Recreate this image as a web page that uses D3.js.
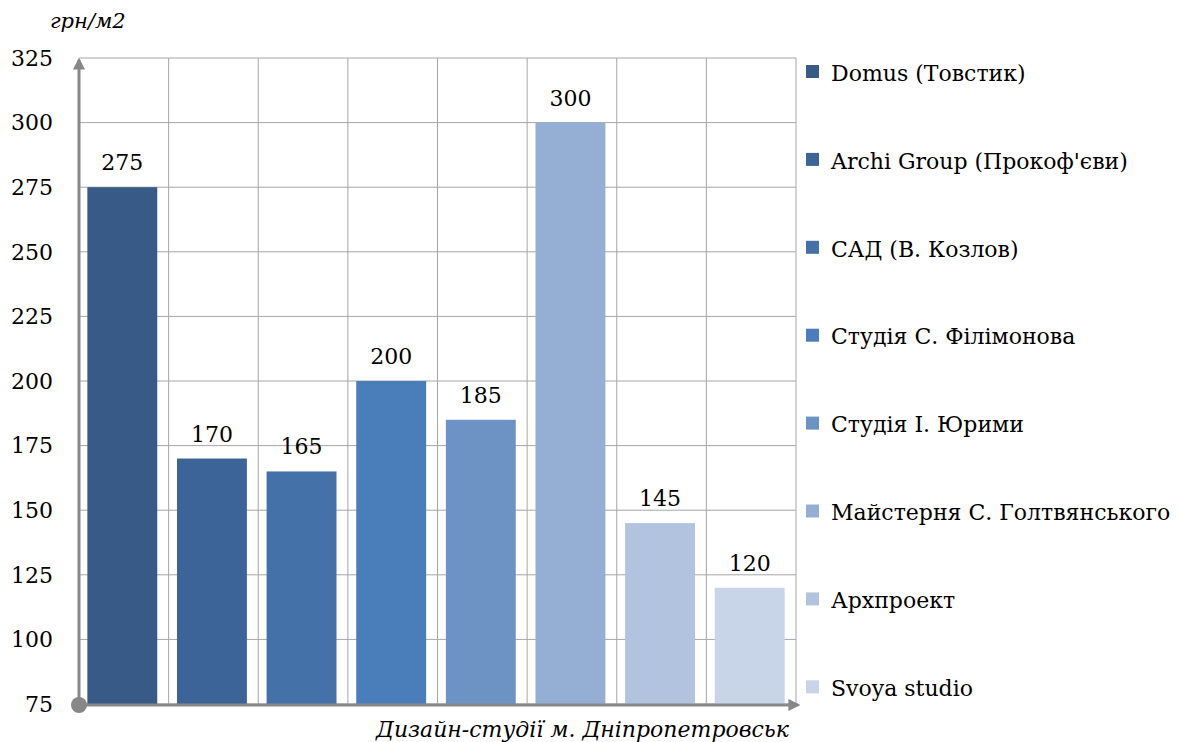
<!DOCTYPE html>
<html>
<head>
<meta charset="utf-8">
<script src="https://cdn.jsdelivr.net/npm/d3@7"></script>
<style>
  body { margin: 0; background: #fff; }
</style>
</head>
<body>
<div id="chart"></div>
<script>
const studios = ["Domus (Товстик)", "Archi Group (Прокоф'єви)", "САД (В. Козлов)", "Студія С. Філімонова",
  "Студія І. Юрими", "Майстерня С. Голтвянського", "Архпроект", "Svoya studio"];
const prices = [275, 170, 165, 200, 185, 300, 145, 120];
const colors = ["#375a86", "#3d6498", "#4472a8", "#4a7ebb", "#6d93c5", "#95aed4", "#b1c3de", "#c8d4e8"];
const yTicks = [75, 100, 125, 150, 175, 200, 225, 250, 275, 300, 325];

const W = 1179, H = 742;
const MARGIN = {top: 58, right: 383, bottom: 38, left: 79};
const plotW = W - MARGIN.left - MARGIN.right,
      plotH = H - MARGIN.top - MARGIN.bottom;
const FONT = "DejaVu Serif, Liberation Serif, serif";

const svg = d3.select("#chart").append("svg")
  .attr("width", W).attr("height", H)
  .style("font-family", FONT);

const g = svg.append("g").attr("transform", `translate(${MARGIN.left},${MARGIN.top})`);

var x = d3.scaleBand()
  .domain(studios)
  .range([0, plotW])
  .paddingInner(0.22)
  .paddingOuter(0.11);

var y = d3.scaleLinear()
  .domain([75, 325])
  .range([plotH, 0]);

// horizontal grid
g.selectAll(".hgrid").data(yTicks).enter().append("line")
  .attr("x1", 0).attr("x2", plotW)
  .attr("y1", d => y(d)).attr("y2", d => y(d))
  .attr("stroke", "#a6a6a6").attr("stroke-width", 1);

// vertical grid on band boundaries
const step = x.step(), x0 = x(studios[0]) - x.paddingOuter() * step;
g.selectAll(".vgrid").data(d3.range(1, studios.length + 1)).enter().append("line")
  .attr("x1", i => x0 + i * step).attr("x2", i => x0 + i * step)
  .attr("y1", 0).attr("y2", plotH)
  .attr("stroke", "#a6a6a6").attr("stroke-width", 1);

// y tick labels
g.selectAll(".ylab").data(yTicks).enter().append("text")
  .attr("x", -26).attr("y", d => y(d)).attr("dy", "0.35em")
  .attr("text-anchor", "end").attr("font-size", 22)
  .text(d => d);

// bars
g.selectAll(".bar").data(prices).enter().append("rect")
  .attr("x", (d, i) => x(studios[i]) - 1.5)
  .attr("y", d => y(d))
  .attr("width", x.bandwidth())
  .attr("height", d => plotH - y(d))
  .attr("fill", (d, i) => colors[i]);

// value labels
g.selectAll(".val").data(prices).enter().append("text")
  .attr("x", (d, i) => x(studios[i]) - 1.5 + x.bandwidth() / 2)
  .attr("y", d => y(d) - 17)
  .attr("text-anchor", "middle").attr("font-size", 22)
  .text(d => d);

// axes with arrows
const defs = svg.append("defs");
defs.append("marker").attr("id", "arr")
  .attr("viewBox", "0 0 10 10").attr("refX", 8).attr("refY", 5)
  .attr("markerWidth", 4).attr("markerHeight", 4).attr("orient", "auto")
  .append("path").attr("d", "M0,0 L10,5 L0,10 z").attr("fill", "#878787");

g.append("line").attr("x1", 0).attr("y1", plotH).attr("x2", 0).attr("y2", 2)
  .attr("stroke", "#878787").attr("stroke-width", 3).attr("marker-end", "url(#arr)");
g.append("line").attr("x1", 0).attr("y1", plotH + 1).attr("x2", plotW + 2).attr("y2", plotH + 1)
  .attr("stroke", "#878787").attr("stroke-width", 3).attr("marker-end", "url(#arr)");
g.append("circle").attr("cx", 0).attr("cy", plotH + 1).attr("r", 8).attr("fill", "#878787");

// axis titles
svg.append("text").attr("x", 50).attr("y", 28)
  .attr("font-size", 21).attr("font-style", "italic")
  .text("грн/м2");
svg.append("text").attr("x", 789).attr("y", 737)
  .attr("text-anchor", "end")
  .attr("font-size", 22).attr("font-style", "italic")
  .text("Дизайн-студії м. Дніпропетровськ");

// legend
const leg = svg.append("g").attr("transform", `translate(806,72)`);
const items = leg.selectAll(".item").data(studios).enter().append("g")
  .attr("transform", (d, i) => `translate(0,${i * 87.9})`);
items.append("rect").attr("x", 0).attr("y", -7).attr("width", 13).attr("height", 13)
  .attr("fill", (d, i) => colors[i]);
items.append("text").attr("x", 25).attr("y", 1).attr("dy", "0.35em")
  .attr("font-size", 22)
  .text(d => d);
</script>
</body>
</html>
